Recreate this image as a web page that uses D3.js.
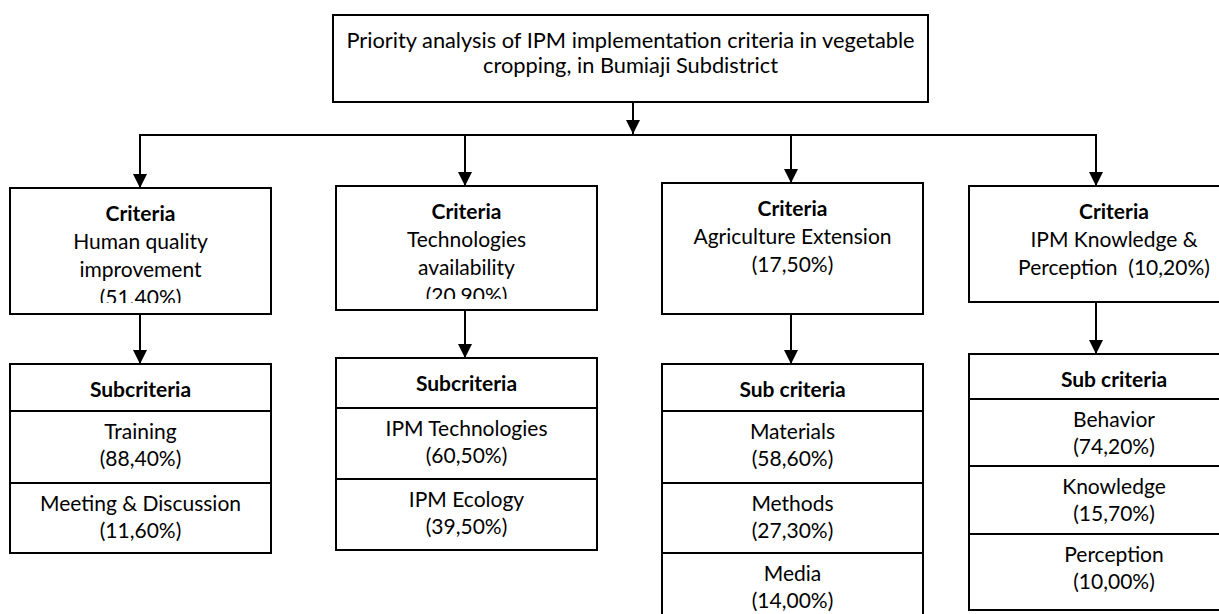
<!DOCTYPE html>
<html>
<head>
<meta charset="utf-8">
<script src="https://cdn.jsdelivr.net/npm/d3@7"></script>
<style>
  body { margin: 0; background: #fff; }
  text { font-family: Lato, "Open Sans", sans-serif; fill: #000; }
</style>
</head>
<body>
<div id="chart"></div>
<script>
// donnees du schema
const goalLines = ["Priority analysis of IPM implementation criteria in vegetable",
                   "cropping, in Bumiaji Subdistrict"];
const criteria = ["Human quality improvement", "Technologies availability",
                  "Agriculture Extension", "IPM Knowledge & Perception"];
const criteriaLines = [
  ["Human quality", "improvement", "(51.40%)"],
  ["Technologies", "availability", "(20.90%)"],
  ["Agriculture Extension", "(17,50%)"],
  ["IPM Knowledge &", "Perception  (10,20%)"]
];
const subHeaders = ["Subcriteria", "Subcriteria", "Sub criteria", "Sub criteria"];
const subNames = [
  ["Training", "Meeting & Discussion"],
  ["IPM Technologies", "IPM Ecology"],
  ["Materials", "Methods", "Media"],
  ["Behavior", "Knowledge", "Perception"]
];
const subWeights = [
  ["(88,40%)", "(11,60%)"],
  ["(60,50%)", "(39,50%)"],
  ["(58,60%)", "(27,30%)", "(14,00%)"],
  ["(74,20%)", "(15,70%)", "(10,00%)"]
];

// mise en page
const width = 1219, height = 614;
const fsTitle = 21.8, fs = 21, lh = 28;

const svg = d3.select("#chart").append("svg")
    .attr("width", width).attr("height", height);

svg.append("defs").append("marker")
    .attr("id", "arrow")
    .attr("viewBox", "0 0 10 10")
    .attr("refX", 10).attr("refY", 5)
    .attr("markerWidth", 7).attr("markerHeight", 7)
    .attr("markerUnits", "strokeWidth")
    .attr("orient", "auto")
  .append("path")
    .attr("d", "M0,0L10,5L0,10Z")
    .attr("fill", "#000");

// echelles des colonnes
const boxLeft = d3.scaleOrdinal().domain(criteria).range([10, 336, 662, 969]);
const boxWidth = d3.scaleOrdinal().domain(criteria).range([261, 261, 261, 290]);
const arrowX = d3.scaleOrdinal().domain(criteria).range([140, 465, 791, 1096]);
const critTop = d3.scaleOrdinal().domain(criteria).range([188, 186, 183, 186]);
const critBottom = d3.scaleOrdinal().domain(criteria).range([314, 310, 314, 302]);
const subTop = d3.scaleOrdinal().domain(criteria).range([364, 358, 364, 354]);
const headH = d3.scaleOrdinal().domain(criteria).range([47, 50, 47, 45]);
const rowH = d3.scaleOrdinal().domain(criteria).range([[72, 70], [71, 71], [72, 70, 80], [67, 68, 76]]);

function box(x, y, w, h) {
  svg.append("rect")
      .attr("x", x).attr("y", y).attr("width", w).attr("height", h)
      .attr("fill", "none").attr("stroke", "#000").attr("stroke-width", 2);
}
function arrow(x1, y1, x2, y2) {
  svg.append("line")
      .attr("x1", x1).attr("y1", y1).attr("x2", x2).attr("y2", y2)
      .attr("stroke", "#000").attr("stroke-width", 2)
      .attr("marker-end", "url(#arrow)");
}

// boite principale
const goal = {x: 333, y: 15, w: 595, h: 87};
box(goal.x, goal.y, goal.w, goal.h);
svg.append("g").selectAll("text")
  .data(goalLines)
  .join("text")
    .attr("x", goal.x + goal.w / 2)
    .attr("y", (d, i) => 48 + i * 25)
    .attr("text-anchor", "middle")
    .attr("font-size", fsTitle)
    .text(d => d);

// liaisons
svg.append("line")
    .attr("x1", 633).attr("y1", goal.y + goal.h).attr("x2", 633).attr("y2", 135)
    .attr("stroke", "#000").attr("stroke-width", 2);
arrow(633, 120, 633, 134);
svg.append("line")
    .attr("x1", arrowX(criteria[0])).attr("x2", arrowX(criteria[3]))
    .attr("y1", 135).attr("y2", 135)
    .attr("stroke", "#000").attr("stroke-width", 2);

criteria.forEach((c, i) => {
  const x = boxLeft(c), w = boxWidth(c), cx = x + w / 2;
  const t = critTop(c), b = critBottom(c);

  arrow(arrowX(c), 134, arrowX(c), t);
  box(x, t, w, b - t);

  // texte coupe comme dans l'original
  svg.append("clipPath").attr("id", "clip" + i)
    .append("rect").attr("x", x).attr("y", t).attr("width", w).attr("height", b - t - 11);
  const g = svg.append("g").attr("clip-path", `url(#clip${i})`);
  g.append("text")
      .attr("x", cx).attr("y", t + 33)
      .attr("text-anchor", "middle").attr("font-size", fs).attr("font-weight", "bold")
      .text("Criteria");
  g.selectAll("text.l")
    .data(criteriaLines[i])
    .join("text")
      .attr("class", "l")
      .attr("x", cx)
      .attr("y", (d, j) => t + 33 + (j + 1) * lh)
      .attr("text-anchor", "middle").attr("font-size", fs)
      .attr("xml:space", "preserve")
      .style("white-space", "pre")
      .text(d => d);

  // sous-criteres
  const st = subTop(c);
  arrow(arrowX(c), b, arrowX(c), st);
  const rows = rowH(c);
  const total = headH(c) + d3.sum(rows);
  box(x, st, w, total);
  svg.append("text")
      .attr("x", cx).attr("y", st + 33)
      .attr("text-anchor", "middle").attr("font-size", fs).attr("font-weight", "bold")
      .text(subHeaders[i]);

  let y = st + headH(c);
  subNames[i].forEach((name, j) => {
    svg.append("line")
        .attr("x1", x).attr("x2", x + w).attr("y1", y).attr("y2", y)
        .attr("stroke", "#000").attr("stroke-width", 2);
    svg.append("text")
        .attr("x", cx).attr("y", y + 28)
        .attr("text-anchor", "middle").attr("font-size", fs)
        .text(name);
    svg.append("text")
        .attr("x", cx).attr("y", y + 55)
        .attr("text-anchor", "middle").attr("font-size", fs)
        .text(subWeights[i][j]);
    y += rows[j];
  });
});
</script>
</body>
</html>
